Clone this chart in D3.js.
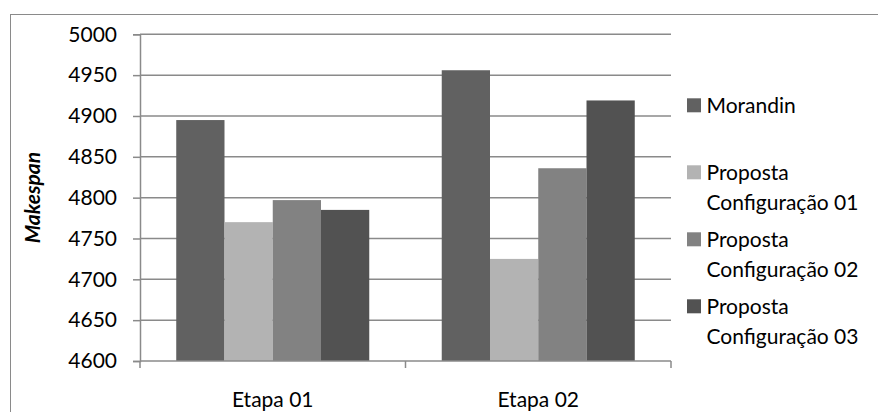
<!DOCTYPE html>
<html>
<head>
<meta charset="utf-8">
<script src="https://cdn.jsdelivr.net/npm/d3@7/dist/d3.min.js"></script>
<style>
  html, body { margin: 0; padding: 0; background: #fff; }
  svg { display: block; }
  text { font-family: Lato, "Open Sans", sans-serif; fill: #000; }
</style>
</head>
<body>
<svg id="chart" width="878" height="412"></svg>
<script>
// Etapas (categories) and the four series of makespan values
const categories = ["Etapa 01", "Etapa 02"];
const seriesNames = ["Morandin", "Proposta Configuração 01", "Proposta Configuração 02", "Proposta Configuração 03"];
const legendLines = [["Morandin"], ["Proposta", "Configuração 01"], ["Proposta", "Configuração 02"], ["Proposta", "Configuração 03"]];
const morandin = [4895, 4956];
const config01 = [4770, 4725];
const config02 = [4797, 4836];
const config03 = [4785, 4919];
const yTicks = [4600, 4650, 4700, 4750, 4800, 4850, 4900, 4950, 5000];
const yTitle = "Makespan";

const seriesValues = [morandin, config01, config02, config03];
const colors = ["#616161", "#b3b3b3", "#828282", "#525252"];

const svg = d3.select("#chart");
const plot = { left: 140, right: 671, top: 34.3, bottom: 361 };
const axisColor = "#8a8a8a";
const fontSize = 21;

// chart frame
svg.append("rect")
  .attr("x", 10.5).attr("y", 14.5)
  .attr("width", 900).attr("height", 420)
  .attr("fill", "none").attr("stroke", "#8a8a8a").attr("stroke-width", 1);

const x = d3.scaleBand()
  .domain(categories)
  .range([plot.left, plot.right])
  .paddingInner(0.273)
  .paddingOuter(0.1365);

const y = d3.scaleLinear()
  .domain([4600, 5000])
  .range([plot.bottom, plot.top]);

const xSeries = d3.scaleBand()
  .domain(seriesNames)
  .range([0, x.bandwidth()]);

// horizontal gridlines
svg.append("g")
  .selectAll("line")
  .data(yTicks.filter(t => t !== 4600))
  .join("line")
  .attr("x1", plot.left).attr("x2", plot.right)
  .attr("y1", d => y(d)).attr("y2", d => y(d))
  .attr("stroke", axisColor).attr("stroke-width", 1.5);

// bars
const groups = svg.append("g")
  .selectAll("g")
  .data(categories)
  .join("g")
  .attr("transform", d => `translate(${x(d)},0)`);

groups.selectAll("rect")
  .data((c, ci) => seriesNames.map((s, si) => ({ s, si, v: seriesValues[si][ci] })))
  .join("rect")
  .attr("x", d => xSeries(d.s))
  .attr("width", xSeries.bandwidth())
  .attr("y", d => y(d.v))
  .attr("height", d => y(4600) - y(d.v))
  .attr("fill", d => colors[d.si]);

// y axis
const yAxis = d3.axisLeft(y).tickValues(yTicks).tickSize(7).tickPadding(16).tickFormat(d3.format("d"));
const gy = svg.append("g").attr("transform", `translate(${plot.left},0)`).call(yAxis);
gy.select(".domain").attr("stroke", axisColor).attr("stroke-width", 1.5);
gy.selectAll(".tick line").attr("stroke", axisColor).attr("stroke-width", 1.5);
gy.selectAll(".tick text")
  .style("font-family", "Lato, 'Open Sans', sans-serif")
  .style("font-size", fontSize + "px")
  .attr("fill", "#000");

// x axis with ticks at category boundaries
const gx = svg.append("g").attr("transform", `translate(0,${plot.bottom})`);
gx.append("line")
  .attr("x1", plot.left).attr("x2", plot.right)
  .attr("stroke", axisColor).attr("stroke-width", 1.5);
const boundaries = [plot.left].concat(categories.map(c => x(c) + x.bandwidth() + x.step() * x.paddingInner() / 2));
boundaries[boundaries.length - 1] = plot.right;
gx.selectAll("line.tick")
  .data(boundaries)
  .join("line")
  .attr("class", "tick")
  .attr("x1", d => d).attr("x2", d => d)
  .attr("y1", 0).attr("y2", 7)
  .attr("stroke", axisColor).attr("stroke-width", 1.5);
gx.selectAll("text")
  .data(categories)
  .join("text")
  .attr("x", d => x(d) + x.bandwidth() / 2)
  .attr("y", 45.5)
  .attr("text-anchor", "middle")
  .style("font-size", fontSize + "px")
  .text(d => d);

// y axis title
svg.append("text")
  .attr("transform", `translate(40,${(plot.top + plot.bottom) / 2}) rotate(-90)`)
  .attr("text-anchor", "middle")
  .style("font-size", fontSize + "px")
  .style("font-weight", "bold")
  .style("font-style", "italic")
  .text(yTitle);

// legend
const legend = svg.append("g").attr("transform", "translate(687,98.3)");
const entries = legend.selectAll("g")
  .data(seriesNames)
  .join("g")
  .attr("transform", (d, i) => `translate(0,${i * 67})`);
entries.append("rect")
  .attr("width", 14).attr("height", 14)
  .attr("fill", (d, i) => colors[i]);
entries.append("text")
  .attr("x", 19.5)
  .attr("y", 14.7)
  .style("font-size", fontSize + "px")
  .selectAll("tspan")
  .data((d, i) => legendLines[i])
  .join("tspan")
  .attr("x", 19.5)
  .attr("dy", (d, j) => j === 0 ? 0 : 30)
  .text(d => d);
</script>
</body>
</html>
